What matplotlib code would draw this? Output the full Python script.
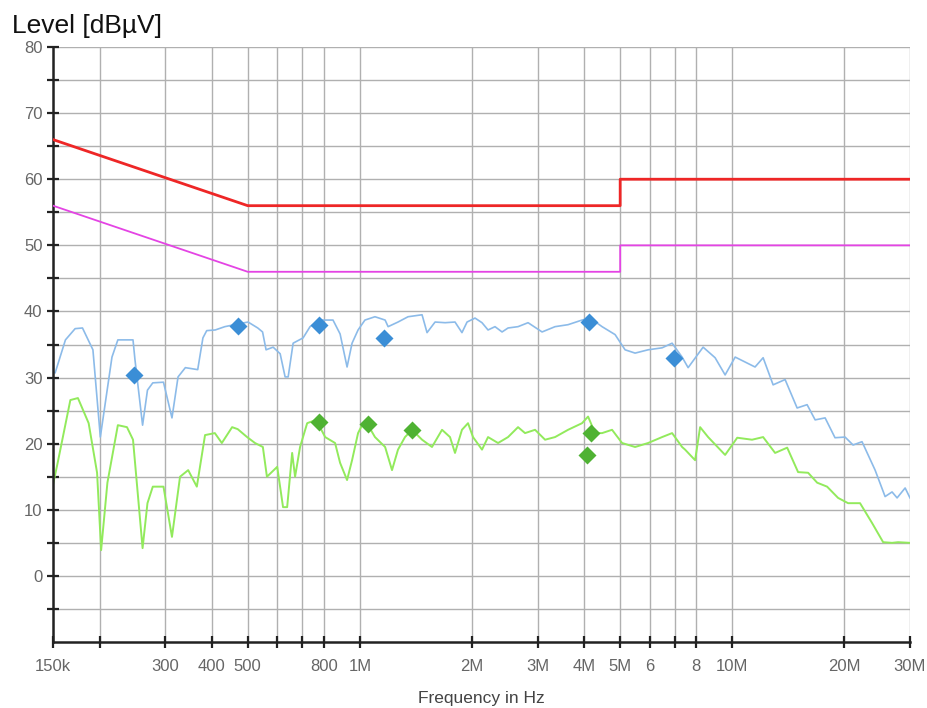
import numpy as np
import matplotlib
matplotlib.use("Agg")
import matplotlib.pyplot as plt
from matplotlib.ticker import FixedLocator, NullFormatter

plt.rcParams['font.family'] = ['Liberation Sans', 'DejaVu Sans']

# Limit lines (frequency in MHz, level in dBuV)
qp_freq = [0.15, 0.5, 5.0, 5.0, 30.0]
qp_level = [66, 56, 56, 60, 60]
av_freq = [0.15, 0.5, 5.0, 5.0, 30.0]
av_level = [56, 46, 46, 50, 50]

# Peak trace (light blue)
pk_freq = [0.150, 0.152, 0.162, 0.172, 0.180, 0.192, 0.201, 0.216, 0.224, 0.246,
           0.249, 0.261, 0.269, 0.278, 0.297, 0.313, 0.325, 0.340, 0.367, 0.379,
           0.388, 0.409, 0.434, 0.470, 0.501, 0.532, 0.548, 0.560, 0.585, 0.611,
           0.630, 0.642, 0.662, 0.704, 0.735, 0.782, 0.847, 0.885, 0.924, 0.953,
           0.989, 1.032, 1.098, 1.169, 1.191, 1.266, 1.347, 1.469, 1.515, 1.592,
           1.694, 1.801, 1.880, 1.940, 2.038, 2.128, 2.209, 2.306, 2.409, 2.500,
           2.659, 2.829, 3.085, 3.343, 3.623, 3.950, 4.151, 4.471, 4.845, 5.154,
           5.483, 5.942, 6.479, 6.893, 7.332, 7.610, 8.349, 8.992, 9.566, 10.18,
           11.51, 12.10, 12.87, 13.86, 14.93, 15.88, 16.69, 17.75, 18.87, 20.08,
           21.10, 22.30, 24.18, 25.72, 26.85, 27.70, 29.11, 30.0]
pk_level = [30.9, 30.7, 35.7, 37.4, 37.5, 34.2, 21.0, 33.1, 35.7, 35.7,
            32.7, 22.8, 28.1, 29.2, 29.3, 23.9, 30.1, 31.5, 31.2, 36.0,
            37.1, 37.2, 37.7, 38.1, 38.4, 37.5, 36.9, 34.2, 34.6, 33.6,
            30.1, 30.1, 35.2, 36.0, 37.7, 38.7, 38.7, 36.6, 31.6, 35.2,
            37.2, 38.7, 39.2, 38.7, 37.7, 38.4, 39.2, 39.5, 36.8, 38.4,
            38.3, 38.4, 36.8, 38.4, 39.0, 38.3, 37.2, 37.7, 36.9, 37.5,
            37.7, 38.3, 36.9, 37.7, 38.0, 38.7, 39.0, 37.7, 36.5, 34.2,
            33.7, 34.2, 34.5, 35.2, 33.1, 31.5, 34.6, 33.0, 30.4, 33.1,
            31.6, 33.0, 28.9, 29.7, 25.4, 25.9, 23.6, 23.9, 20.9, 21.0,
            19.8, 20.3, 16.0, 12.0, 12.7, 11.8, 13.3, 11.8]

# Average trace (light green)
av_tr_freq = [0.150, 0.154, 0.167, 0.175, 0.187, 0.197, 0.202, 0.210, 0.224, 0.237,
              0.246, 0.261, 0.269, 0.278, 0.297, 0.313, 0.329, 0.346, 0.365, 0.384,
              0.408, 0.426, 0.454, 0.470, 0.498, 0.523, 0.549, 0.563, 0.600, 0.622,
              0.638, 0.658, 0.670, 0.691, 0.722, 0.763, 0.807, 0.858, 0.885, 0.924,
              0.953, 0.989, 1.020, 1.052, 1.098, 1.169, 1.220, 1.266, 1.322, 1.381,
              1.469, 1.562, 1.662, 1.746, 1.801, 1.880, 1.952, 2.013, 2.128, 2.209,
              2.350, 2.500, 2.659, 2.777, 2.954, 3.143, 3.343, 3.623, 3.950, 4.100,
              4.281, 4.471, 4.755, 5.059, 5.483, 5.942, 6.479, 6.893, 7.332, 7.469,
              7.946, 8.196, 8.611, 9.566, 10.31, 11.30, 12.10, 13.03, 14.04, 15.02,
              15.98, 16.90, 17.97, 19.23, 20.46, 22.03, 23.73, 25.41, 26.85, 27.87,
              30.0]
av_tr_level = [13.8, 16.8, 26.6, 26.9, 23.1, 15.6, 3.9, 14.1, 22.8, 22.5,
               20.6, 4.2, 11.0, 13.5, 13.5, 5.9, 15.0, 16.0, 13.5, 21.3,
               21.6, 20.1, 22.5, 22.2, 21.0, 20.1, 19.5, 15.0, 16.5, 10.4,
               10.4, 18.6, 15.0, 19.5, 23.1, 23.6, 21.0, 20.1, 17.1, 14.5,
               17.5, 21.6, 23.1, 22.8, 21.0, 19.5, 16.0, 19.1, 21.0, 22.1,
               20.6, 19.5, 22.1, 21.0, 18.6, 22.1, 23.1, 21.0, 19.1, 21.0,
               20.1, 21.0, 22.5, 21.6, 22.1, 20.6, 21.0, 22.1, 23.1, 24.1,
               21.6, 21.6, 22.1, 20.1, 19.5, 20.1, 21.0, 21.6, 19.5, 19.1,
               17.5, 22.5, 21.0, 18.3, 20.9, 20.6, 21.0, 18.6, 19.4, 15.7,
               15.6, 14.1, 13.5, 11.8, 11.0, 11.0, 8.0, 5.1, 5.0, 5.1,
               5.0]

# Final measurement points
pk_mark_freq = [0.248, 0.470, 0.777, 1.16, 4.12, 6.98]
pk_mark_level = [30.4, 37.8, 38.0, 36.0, 38.4, 33.0]
av_mark_freq = [0.777, 1.05, 1.38, 4.18, 4.08]
av_mark_level = [23.3, 23.0, 22.1, 21.6, 18.3]

# Axis ticks
x_ticks = [0.15, 0.2, 0.3, 0.4, 0.5, 0.6, 0.7, 0.8, 1, 2, 3, 4, 5, 6, 7, 8, 10, 20, 30]
x_labels = ['150k', '', '300', '400', '500', '', '', '800', '1M', '2M', '3M', '4M',
            '5M', '6', '', '8', '10M', '20M', '30M']
y_major = [0, 10, 20, 30, 40, 50, 60, 70, 80]
y_minor = [-5, 5, 15, 25, 35, 45, 55, 65, 75]

fig = plt.figure(figsize=(9.28, 7.08), dpi=100)
ax = fig.add_axes([0.0571, 0.0932, 0.9235, 0.8404])

ax.set_xscale('log')
ax.set_xlim(0.15, 30)
ax.set_ylim(-10, 80)

# Grid
for f in x_ticks:
    ax.axvline(f, color='#b0b0b0', lw=1.0, zorder=0)
for y in y_major + y_minor:
    ax.axhline(y, color='#b0b0b0', lw=1.0, zorder=0)

# Limits
ax.plot(qp_freq, qp_level, color='#ee2626', lw=2.0, zorder=3)
ax.plot(av_freq, av_level, color='#e444e4', lw=1.3, zorder=3)

# Traces
ax.plot(pk_freq, pk_level, color='#8cbbe9', lw=1.2, zorder=2)
ax.plot(av_tr_freq, av_tr_level, color='#92ea5c', lw=1.4, zorder=2)

# Markers
ax.plot(pk_mark_freq, pk_mark_level, 'D', color='#3b8ed6', ms=9, mec='none', zorder=4)
ax.plot(av_mark_freq, av_mark_level, 'D', color='#4fb233', ms=9, mec='none', zorder=4)

# Axes styling
for side in ['top', 'right']:
    ax.spines[side].set_visible(False)
for side in ['left', 'bottom']:
    ax.spines[side].set_linewidth(1.8)
    ax.spines[side].set_color('#222222')

ax.xaxis.set_major_locator(FixedLocator(x_ticks))
ax.xaxis.set_minor_locator(FixedLocator([]))
ax.set_xticklabels(x_labels)
ax.yaxis.set_major_locator(FixedLocator(y_major))
ax.yaxis.set_minor_locator(FixedLocator(y_minor))
ax.yaxis.set_minor_formatter(NullFormatter())

ax.tick_params(axis='both', which='both', direction='inout', length=9, width=1.6,
               color='#222222', labelcolor='#666666', labelsize=12)
ax.tick_params(axis='x', pad=8)
ax.tick_params(axis='y', pad=3)

ax.set_xlabel('Frequency in Hz', fontsize=12.5, color='#444444', labelpad=12)

fig.text(0.013, 1 - 33 / 708, 'Level [dBµV]', fontsize=19, color='#111111',
         va='baseline', ha='left')

plt.savefig('out.png', dpi=100)
